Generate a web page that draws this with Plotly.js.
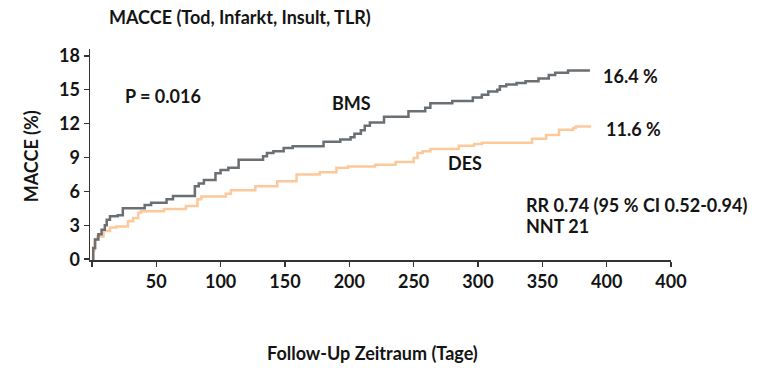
<!DOCTYPE html>
<html>
<head>
<meta charset="utf-8">
<script src="https://cdn.plot.ly/plotly-3.0.1.min.js"></script>
<style>html,body{margin:0;padding:0;background:#fff}#chart{width:769px;height:368px}</style>
</head>
<body>
<div id="chart"></div>
<script>
const bmsDays = [0,1,2.5,5,7.5,10,11.5,14,20,24,41,46,58,63,80,83,87,96,100,106,114,133,136,141,149,156,180,193,201,204,209,212,216,227,246,259,263,280,296,303,308,315,317,322,330,337,347,355,360,370,387];
const bmsVals = [0,1.0,1.75,2.2,2.6,3.0,3.5,3.8,3.9,4.5,4.8,5.0,5.3,5.6,6.45,6.7,7.0,7.6,7.9,8.1,8.8,9.1,9.4,9.55,9.85,10.0,10.4,10.6,10.8,11.1,11.4,11.8,12.1,12.6,13.1,13.4,13.8,14.0,14.3,14.55,14.85,15.0,15.3,15.45,15.6,15.75,16.0,16.3,16.5,16.7,16.7];
const desDays = [0,1,2,4,9,14,19,28,32,36,38,56,73,82,85,104,108,127,144,159,177,190,199,220,236,250,253,257,263,285,297,303,342,353,363,374,376,388];
const desVals = [0,0.8,1.75,2.0,2.5,2.8,2.9,3.35,3.65,4.1,4.25,4.45,4.7,5.3,5.55,5.8,6.1,6.45,6.9,7.5,7.7,8.1,8.2,8.35,8.6,8.95,9.4,9.55,9.75,10.05,10.2,10.3,10.65,11.0,11.45,11.6,11.75,11.75];
const xTickVals = [0,50,100,150,200,250,300,350,400,450];
const xTickText = ["","50","100","150","200","250","300","350","400","400"];
const yTickVals = [0,3,6,9,12,15,18];

const FONT = "Lato, 'Open Sans', sans-serif";
const FS = 18;
const txt = '#141414';

const traces = [
  {x: desDays, y: desVals, type:'scatter', mode:'lines', line:{shape:'hv', color:'#fdc99b', width:2.5}, hoverinfo:'skip'},
  {x: bmsDays, y: bmsVals, type:'scatter', mode:'lines', line:{shape:'hv', color:'#6a6f73', width:2.5}, hoverinfo:'skip'}
];

function ann(text, x, y, opts) {
  return Object.assign({text:'<b>'+text+'</b>', x:x, y:y, xref:'x', yref:'y', showarrow:false, xanchor:'left', yanchor:'middle', font:{family:FONT, size:FS, color:txt}}, opts||{});
}

const layout = {
  width:769, height:368,
  margin:{l:89.5, r:98.3, t:49, b:107.5, pad:0},
  paper_bgcolor:'#fff', plot_bgcolor:'#fff',
  showlegend:false,
  font:{family:FONT, size:FS, color:txt},
  title:{text:'<b>MACCE (Tod, Infarkt, Insult, TLR)</b>', x:109/769, xanchor:'left', xref:'container', y:1-18/368, yanchor:'middle', yref:'container', font:{family:FONT, size:FS, color:txt}},
  xaxis:{range:[-1.5,450], tickmode:'array', tickvals:xTickVals, ticktext:xTickText, ticks:'outside', ticklen:5, tickwidth:1.5, tickcolor:'#333',
         showline:true, linecolor:'#333', linewidth:1.5, showgrid:false, zeroline:false, fixedrange:true,
         tickfont:{family:FONT, size:FS, color:txt, weight:'bold'}},
  yaxis:{range:[-0.07,18.6], tickmode:'array', tickvals:yTickVals, ticks:'outside', ticklen:5, tickwidth:1.5, tickcolor:'#333',
         showline:true, linecolor:'#333', linewidth:1.5, showgrid:false, zeroline:false, fixedrange:true,
         tickfont:{family:FONT, size:FS, color:txt, weight:'bold'}},
  annotations:[
    ann('P = 0.016', 24.5, 14.4),
    ann('BMS', 185, 13.85),
    ann('DES', 275, 8.55),
    ann('16.4\u202f%', 395.5, 16.2),
    ann('11.6\u202f%', 397.7, 11.55),
    ann('RR 0.74 (95\u202f% CI 0.52-0.94)', 336, 4.83),
    ann('NNT 21', 336, 2.9),
    {text:'<b>MACCE (%)</b>', xref:'paper', yref:'paper', x:(30-89.5)/581.2, y:(260.5-157)/211.5, textangle:-90, showarrow:false, xanchor:'center', yanchor:'middle', font:{family:FONT, size:FS, color:txt}},
    {text:'<b>Follow-Up Zeitraum (Tage)</b>', xref:'paper', yref:'paper', x:(372-89.5)/581.2, y:(260.5-354)/211.5, showarrow:false, xanchor:'center', yanchor:'middle', font:{family:FONT, size:FS, color:txt}}
  ]
};

Plotly.newPlot('chart', traces, layout, {staticPlot:true, displayModeBar:false});
</script>
</body>
</html>
